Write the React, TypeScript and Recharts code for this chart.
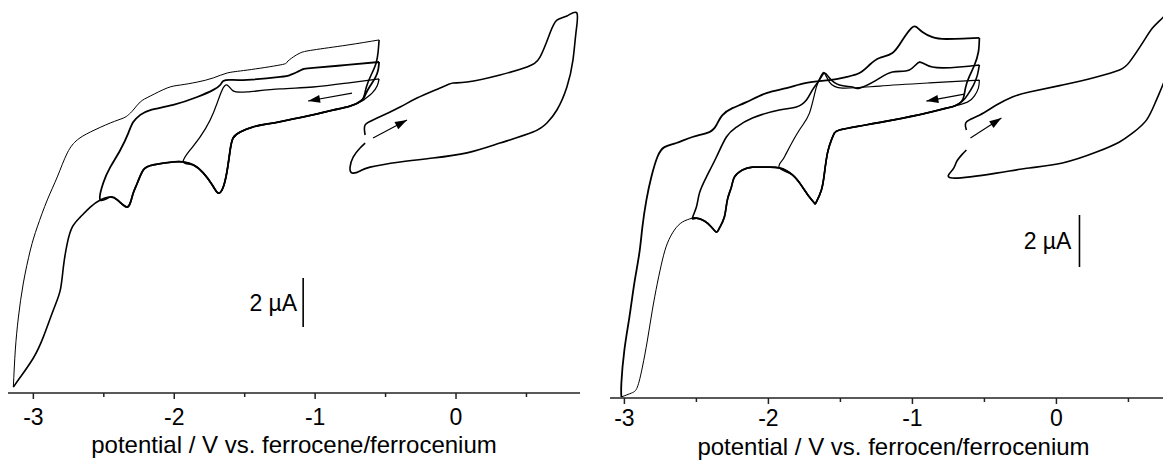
import React from "react";
import {
  LineChart,
  Line,
  XAxis,
  YAxis,
  ReferenceLine,
  ReferenceDot,
  Label,
} from "recharts";

// potential in V vs. Fc/Fc+, current in uA (zero is arbitrary, scale bar = 2 uA)
const xTicks = [-3, -2.5, -2, -1.5, -1, -0.5, 0, 0.5];
const leftTitle = "potential / V vs. ferrocene/ferrocenium";
const rightTitle = "potential / V vs. ferrocen/ferrocenium";
const scaleLabel = "2 \u00b5A";

// ---- left panel ----
const leftSwitch1 = [[-0.546, 14.41], [-0.553, 13.92], [-0.567, 13.47], [-0.596, 13.06], [-0.624, 12.69], [-0.645, 12.29], [-0.667, 11.96]];
const leftSwitch2 = [[-0.546, 13.51], [-0.553, 13.18], [-0.574, 12.86], [-0.61, 12.53], [-0.645, 12.16], [-0.667, 11.96]];
const leftSwitch3 = [[-0.546, 12.82], [-0.56, 12.53], [-0.596, 12.24], [-0.638, 12.04], [-0.667, 11.92]];
const leftLowerA = [[-0.752, 11.71], [-0.872, 11.55], [-0.986, 11.39], [-1.227, 11.1], [-1.34, 10.98], [-1.44, 10.86], [-1.532, 10.65], [-1.582, 10.41], [-1.603, 9.92], [-1.624, 9.1], [-1.652, 8.41], [-1.688, 8.16], [-1.73, 8.49], [-1.794, 8.98], [-1.865, 9.31], [-1.936, 9.43]];
const leftLowerB = [[-2.007, 9.43], [-2.149, 9.31], [-2.22, 9.1], [-2.262, 8.57], [-2.291, 8.16], [-2.312, 7.76], [-2.333, 7.59], [-2.362, 7.67], [-2.404, 7.88], [-2.454, 8.0], [-2.525, 7.88]];
const leftLowerC = [[-2.596, 7.59], [-2.667, 7.18], [-2.723, 6.78], [-2.759, 6.12], [-2.787, 5.14], [-2.809, 4.2], [-2.858, 3.39], [-2.929, 2.29], [-3.0, 1.43], [-3.092, 0.65], [-3.142, 0.24]];
const leftUpper1 = [[-3.142, 0.24], [-3.128, 1.76], [-3.106, 3.1], [-3.071, 4.49], [-3.021, 5.84], [-2.972, 6.78], [-2.901, 7.88], [-2.83, 8.82], [-2.759, 9.8], [-2.688, 10.33], [-2.596, 10.65], [-2.454, 11.02], [-2.362, 11.22], [-2.326, 11.35], [-2.291, 11.55], [-2.241, 11.88], [-2.17, 12.12], [-2.05, 12.45], [-1.957, 12.57], [-1.837, 12.69], [-1.723, 12.86], [-1.624, 13.06], [-1.482, 13.18], [-1.248, 13.39], [-1.199, 13.51], [-1.156, 13.71], [-1.106, 13.88], [-1.014, 14.0], [-0.773, 14.2], [-0.546, 14.41]];
const leftUpper2 = [[-2.504, 8.57], [-2.454, 9.22], [-2.383, 9.92], [-2.326, 10.61], [-2.291, 11.06], [-2.241, 11.35], [-2.17, 11.55], [-2.007, 11.76], [-1.837, 12.08], [-1.723, 12.37], [-1.674, 12.57], [-1.652, 12.73], [-1.603, 12.78], [-1.482, 12.78], [-1.248, 12.9], [-1.177, 12.98], [-1.128, 13.1], [-1.085, 13.22], [-1.014, 13.27], [-0.773, 13.39], [-0.546, 13.51]];
const leftUpper3 = [[-1.887, 9.92], [-1.816, 10.45], [-1.745, 11.14], [-1.695, 11.84], [-1.66, 12.37], [-1.624, 12.57], [-1.582, 12.33], [-1.482, 12.29], [-1.248, 12.41], [-1.014, 12.49], [-0.773, 12.65], [-0.546, 12.82]];
const leftLoop = [[-0.645, 10.53], [-0.645, 10.94], [-0.56, 11.22], [-0.397, 11.67], [-0.277, 12.04], [-0.113, 12.45], [-0.021, 12.65], [0.078, 12.69], [0.312, 12.98], [0.504, 13.31], [0.596, 13.71], [0.667, 14.69], [0.716, 15.22], [0.787, 15.39], [0.858, 15.51], [0.851, 14.69], [0.83, 13.59], [0.787, 12.49], [0.716, 11.55], [0.645, 11.02], [0.546, 10.65], [0.312, 10.2], [0.078, 9.8], [-0.163, 9.59], [-0.397, 9.43], [-0.61, 9.22], [-0.681, 9.06], [-0.738, 8.98], [-0.752, 9.22], [-0.73, 9.63], [-0.681, 10.0], [-0.645, 10.2]];
const leftArrowBack = [[-0.738, 12.24], [-1.05, 11.92]];
const leftArrowFwd = [[-0.589, 10.41], [-0.348, 11.14]];
const leftBar = { x: -1.085, from: 2.69, to: 4.69 };

// ---- right panel ----
const rightSwitch1 = [[-0.535, 13.85], [-0.542, 13.31], [-0.569, 12.81], [-0.604, 12.38], [-0.632, 11.92], [-0.653, 11.46], [-0.708, 11.23]];
const rightSwitch2 = [[-0.535, 12.81], [-0.549, 12.42], [-0.576, 12.04], [-0.618, 11.65], [-0.653, 11.42], [-0.708, 11.23]];
const rightSwitch3 = [[-0.535, 12.23], [-0.542, 11.92], [-0.569, 11.62], [-0.618, 11.38], [-0.708, 11.23]];
const rightLowerA = [[-0.764, 11.15], [-0.903, 10.96], [-1.139, 10.69], [-1.368, 10.46], [-1.507, 10.31], [-1.542, 10.19], [-1.563, 9.92], [-1.59, 9.42], [-1.611, 8.65], [-1.632, 8.0], [-1.667, 7.54], [-1.681, 7.5], [-1.715, 7.73], [-1.764, 8.12], [-1.833, 8.58], [-1.924, 8.85]];
const rightLowerB = [[-2.014, 8.88], [-2.111, 8.88], [-2.181, 8.77], [-2.236, 8.5], [-2.257, 8.12], [-2.285, 7.62], [-2.306, 6.96], [-2.34, 6.54], [-2.361, 6.38], [-2.396, 6.58], [-2.444, 6.81], [-2.5, 6.92], [-2.528, 6.92]];
const rightLowerC = [[-2.528, 6.92], [-2.597, 6.77], [-2.653, 6.46], [-2.701, 5.96], [-2.736, 5.31], [-2.771, 4.42], [-2.806, 3.38], [-2.84, 2.23], [-2.875, 1.19], [-2.91, 0.42], [-2.951, 0.19], [-3.021, 0.04]];
const rightUpper1 = [[-3.021, 0.04], [-3.021, 0.58], [-3.0, 1.85], [-2.965, 3.12], [-2.931, 4.42], [-2.896, 5.58], [-2.875, 6.58], [-2.847, 7.62], [-2.813, 8.5], [-2.771, 9.27], [-2.722, 9.65], [-2.639, 9.81], [-2.528, 10.04], [-2.41, 10.23], [-2.361, 10.5], [-2.319, 10.88], [-2.25, 11.15], [-2.153, 11.38], [-2.014, 11.73], [-1.875, 11.92], [-1.736, 12.12], [-1.576, 12.23], [-1.458, 12.35], [-1.368, 12.5], [-1.299, 12.81], [-1.229, 13.08], [-1.139, 13.27], [-1.069, 13.77], [-1.007, 14.23], [-0.972, 14.27], [-0.931, 14.08], [-0.861, 13.88], [-0.764, 13.81], [-0.535, 13.85]];
const rightUpper2 = [[-2.5, 7.35], [-2.479, 7.88], [-2.431, 8.5], [-2.361, 9.27], [-2.292, 10.04], [-2.222, 10.42], [-2.111, 10.77], [-1.924, 11.08], [-1.806, 11.19], [-1.736, 11.46], [-1.694, 11.85], [-1.646, 12.23], [-1.611, 12.5], [-1.576, 12.31], [-1.507, 12.04], [-1.417, 11.96], [-1.368, 11.92], [-1.25, 12.23], [-1.139, 12.54], [-1.021, 12.62], [-0.951, 12.92], [-0.861, 12.73], [-0.674, 12.73], [-0.535, 12.81]];
const rightUpper3 = [[-1.903, 9.15], [-1.875, 9.42], [-1.785, 10.31], [-1.715, 10.96], [-1.667, 11.96], [-1.632, 12.42], [-1.611, 12.5], [-1.576, 12.15], [-1.486, 11.92], [-1.229, 12.0], [-0.882, 12.12], [-0.535, 12.23]];
const rightLoop = [[-0.625, 10.31], [-0.625, 10.62], [-0.535, 10.88], [-0.417, 11.27], [-0.306, 11.58], [-0.188, 11.77], [0.042, 12.04], [0.278, 12.35], [0.438, 12.62], [0.507, 12.92], [0.597, 13.65], [0.667, 14.23], [0.736, 14.62], [0.799, 14.92], [0.826, 14.54], [0.813, 13.58], [0.764, 12.42], [0.694, 11.46], [0.625, 10.69], [0.528, 10.19], [0.438, 9.85], [0.278, 9.46], [0.042, 9.04], [-0.188, 8.85], [-0.417, 8.65], [-0.722, 8.46], [-0.722, 8.77], [-0.694, 9.08], [-0.653, 9.38], [-0.625, 9.54]];
const rightArrowBack = [[-0.639, 11.69], [-0.903, 11.42]];
const rightArrowFwd = [[-0.597, 10.0], [-0.382, 10.77]];
const rightBar = { x: 0.16, from: 5.04, to: 7.04 };

const pts = (...parts: number[][][]) =>
  parts.flat().map(([x, y]) => ({ x, y }));

// arrow head drawn on the last point of a two-point line
const makeArrowHead = () => {
  let prev: { x: number; y: number } | null = null;
  return (props: any) => {
    const { cx, cy, index, points } = props;
    if (index === 0) {
      prev = { x: cx, y: cy };
      return <g key={`ah-${index}`} />;
    }
    const from = points && points[index - 1] ? points[index - 1] : prev || { x: cx - 1, y: cy };
    const a = Math.atan2(cy - from.y, cx - from.x);
    const L = 12;
    const W = 4;
    const bx = cx - L * Math.cos(a);
    const by = cy - L * Math.sin(a);
    const nx = -Math.sin(a) * W;
    const ny = Math.cos(a) * W;
    return (
      <polygon
        key={`ah-${index}`}
        points={`${cx},${cy} ${bx + nx},${by + ny} ${bx - nx},${by - ny}`}
        fill="#000"
      />
    );
  };
};

const makeTick = (labelDrop: number) => (props: any) => {
  const { x, y, payload } = props;
  const major = Number.isInteger(payload.value);
  return (
    <g key={`t-${payload.value}`}>
      <line x1={x} y1={y} x2={x} y2={y + (major ? 6 : 4)} stroke="#222" strokeWidth={1.5} />
      {major && (
        <text x={x} y={y + labelDrop} textAnchor="middle" fontSize={23} fill="#000">
          {payload.value}
        </text>
      )}
    </g>
  );
};

const makeTitle = (text: string, shift: number, drop: number) => (props: any) => {
  const vb = props.viewBox;
  return (
    <text x={vb.x + vb.width / 2 + shift} y={vb.y + drop} textAnchor="middle" fontSize={24} fill="#000">
      {text}
    </text>
  );
};

interface PanelProps {
  width: number;
  xDomain: [number, number];
  yTop: number;
  axisHeight: number;
  marginLeft: number;
  marginRight: number;
  curves: { data: { x: number; y: number }[]; w: number }[];
  loop: number[][];
  arrows: number[][][];
  bar: { x: number; from: number; to: number };
  barGap: number;
  title: string;
  titleShift: number;
  titleDrop: number;
  labelDrop: number;
}

const Panel: React.FC<PanelProps> = (p) => (
  <LineChart
    width={p.width}
    height={461}
    margin={{ top: 0, right: p.marginRight, bottom: 0, left: p.marginLeft }}
  >
    <XAxis
      dataKey="x"
      type="number"
      domain={p.xDomain}
      allowDataOverflow
      ticks={xTicks}
      interval={0}
      height={p.axisHeight}
      tickSize={0}
      tickMargin={0}
      tickLine={false}
      axisLine={{ stroke: "#222", strokeWidth: 1.5 }}
      tick={makeTick(p.labelDrop)}
    >
      <Label content={makeTitle(p.title, p.titleShift, p.titleDrop)} />
    </XAxis>
    <YAxis hide type="number" domain={[0, p.yTop]} allowDataOverflow />
    {p.curves.map((c, i) => (
      <Line
        key={`cv-${i}`}
        data={c.data}
        dataKey="y"
        type="natural"
        stroke="#000"
        strokeWidth={c.w}
        dot={false}
        activeDot={false}
        isAnimationActive={false}
      />
    ))}
    <Line
      data={pts(p.loop)}
      dataKey="y"
      type="natural"
      stroke="#000"
      strokeWidth={1.6}
      dot={false}
      activeDot={false}
      isAnimationActive={false}
    />
    {p.arrows.map((a, i) => (
      <Line
        key={`ar-${i}`}
        data={pts(a)}
        dataKey="y"
        type="linear"
        stroke="#000"
        strokeWidth={1.1}
        dot={makeArrowHead()}
        activeDot={false}
        isAnimationActive={false}
      />
    ))}
    <ReferenceLine
      segment={[
        { x: p.bar.x, y: p.bar.from },
        { x: p.bar.x, y: p.bar.to },
      ]}
      stroke="#000"
      strokeWidth={1.6}
      ifOverflow="visible"
    />
    <ReferenceDot
      x={p.bar.x}
      y={(p.bar.from + p.bar.to) / 2}
      r={0}
      fill="none"
      stroke="none"
      ifOverflow="visible"
      label={{ value: scaleLabel, position: "left", offset: p.barGap, fontSize: 23, fill: "#000" }}
    />
  </LineChart>
);

const App: React.FC = () => {
  const leftCurves = [
    { data: pts(leftSwitch1, leftLowerA, leftLowerB, leftLowerC), w: 1.6 },
    { data: pts(leftUpper1), w: 1.0 },
    { data: pts(leftSwitch2, leftLowerA, leftLowerB, leftUpper2), w: 1.8 },
    { data: pts(leftSwitch3, leftLowerA, leftUpper3), w: 1.3 },
  ];
  const rightCurves = [
    { data: pts(rightSwitch1, rightLowerA, rightLowerB), w: 1.7 },
    { data: pts(rightLowerC), w: 1.0 },
    { data: pts(rightUpper1), w: 1.8 },
    { data: pts(rightSwitch2, rightLowerA, rightLowerB, rightUpper2), w: 1.6 },
    { data: pts(rightSwitch3, rightLowerA, rightUpper3), w: 1.2 },
  ];

  return (
    <div
      style={{
        position: "absolute",
        left: 0,
        top: 0,
        width: 1163,
        height: 461,
        background: "#fff",
        fontFamily: '"Liberation Sans", Arial, sans-serif',
      }}
    >
      <div style={{ position: "absolute", left: 0, top: 0 }}>
        <Panel
          width={590}
          xDomain={[-3.18, 0.88]}
          yTop={16.04}
          axisHeight={68}
          marginLeft={8}
          marginRight={10}
          curves={leftCurves}
          loop={leftLoop}
          arrows={[leftArrowBack, leftArrowFwd]}
          bar={leftBar}
          barGap={6}
          title={leftTitle}
          titleShift={0}
          titleDrop={60}
          labelDrop={32}
        />
      </div>
      <div style={{ position: "absolute", left: 600, top: 0 }}>
        <Panel
          width={563}
          xDomain={[-3.1, 0.74]}
          yTop={15.31}
          axisHeight={63}
          marginLeft={10}
          marginRight={0}
          curves={rightCurves}
          loop={rightLoop}
          arrows={[rightArrowBack, rightArrowFwd]}
          bar={rightBar}
          barGap={8}
          title={rightTitle}
          titleShift={7}
          titleDrop={57}
          labelDrop={28}
        />
      </div>
    </div>
  );
};

export default App;
